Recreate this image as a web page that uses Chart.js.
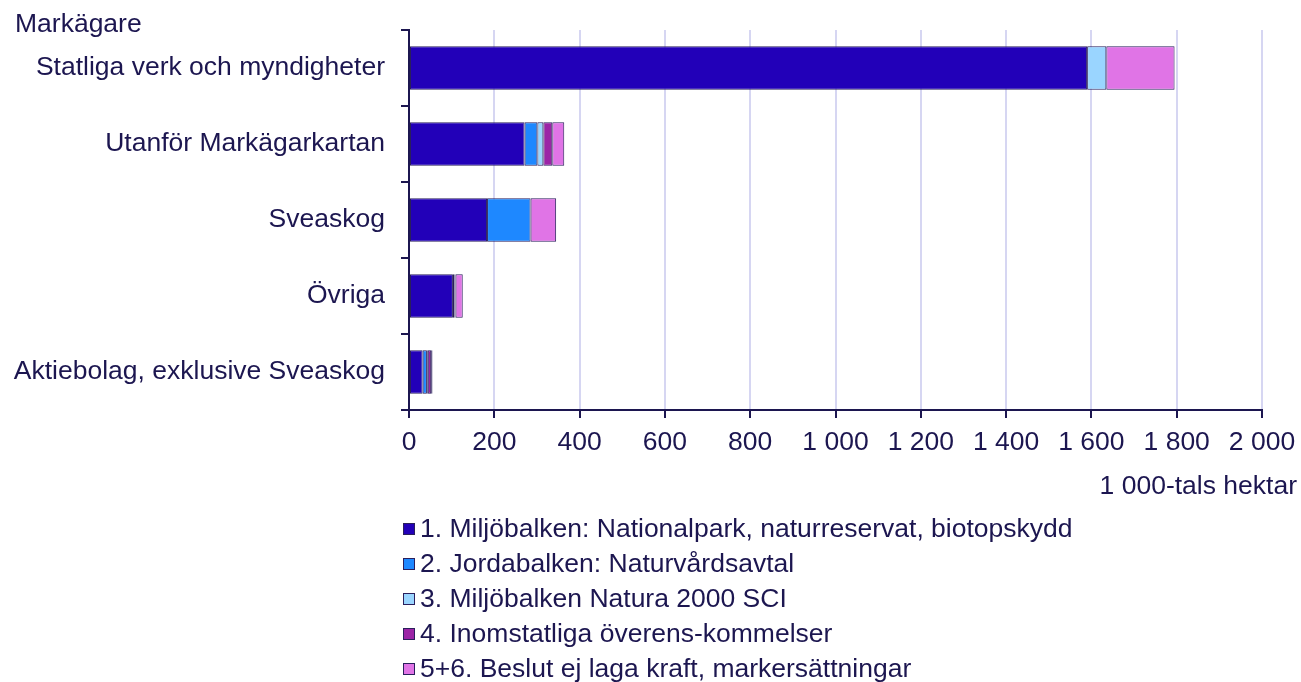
<!DOCTYPE html>
<html>
<head>
<meta charset="utf-8">
<script src="https://cdn.jsdelivr.net/npm/chart.js@4/dist/chart.umd.min.js"></script>
<style>
  html, body { margin: 0; padding: 0; background: #ffffff; }
  #wrap { width: 1301px; height: 682px; position: relative; }
</style>
</head>
<body>
<div id="wrap"><canvas id="chart" width="1301" height="682"></canvas></div>
<script>
// Markägare (categories)
const categories = [
  'Statliga verk och myndigheter',
  'Utanför Markägarkartan',
  'Sveaskog',
  'Övriga',
  'Aktiebolag, exklusive Sveaskog'
];

// Series, 1 000-tals hektar
const seriesNames = [
  '1. Miljöbalken: Nationalpark, naturreservat, biotopskydd',
  '2. Jordabalken: Naturvårdsavtal',
  '3. Miljöbalken Natura 2000 SCI',
  '4. Inomstatliga överens-kommelser',
  '5+6. Beslut ej laga kraft, markersättningar'
];
const miljobalken   = [1590, 271, 183, 103, 32];
const jordabalken   = [0, 30, 102, 4, 10];
const natura2000    = [45, 14, 0, 0, 2];
const inomstatliga  = [0, 21, 0, 2, 8];
const beslutEjLaga  = [160, 28, 60, 17, 3];

const xTicks = [0, 200, 400, 600, 800, 1000, 1200, 1400, 1600, 1800, 2000];
const xMin = 0, xMax = 2000, xStep = 200;

const seriesColors = ['#2200b8', '#1e88ff', '#9ad5ff', '#9b24a6', '#e074e6'];
const ink = '#1c1650';
const edge = '#2a1f5c';
const gridColor = '#d6d6f2';
const FONT = "Arial, 'Liberation Sans', sans-serif";
const FS = 26.5;

function fmtThousands(v) {
  return String(v).replace(/\B(?=(\d{3})+(?!\d))/g, ' ');
}

const seriesData = [miljobalken, jordabalken, natura2000, inomstatliga, beslutEjLaga];

// Axis caption, unit caption and the one-per-line legend
const extras = {
  id: 'extras',
  afterDraw(chart) {
    const ctx = chart.ctx;
    const area = chart.chartArea;
    ctx.save();
    ctx.font = FS + 'px ' + FONT;
    ctx.fillStyle = ink;
    ctx.textBaseline = 'middle';

    ctx.textAlign = 'left';
    ctx.fillText('Markägare', 15, area.top - 5);

    ctx.textAlign = 'right';
    ctx.fillText('1 000-tals hektar', chart.width - 4, area.bottom + 77);

    const lx = area.left - 6;
    const ly0 = area.bottom + 119;
    const gap = 35;
    ctx.textAlign = 'left';
    chart.data.datasets.forEach((ds, i) => {
      const y = ly0 + i * gap;
      ctx.fillStyle = ds.backgroundColor;
      ctx.fillRect(lx, y - 6, 12, 12);
      ctx.strokeStyle = edge;
      ctx.lineWidth = 1;
      ctx.strokeRect(lx + 0.5, y - 5.5, 11, 11);
      ctx.fillStyle = ink;
      ctx.fillText(ds.label, lx + 17, y + 1);
    });
    ctx.restore();
  }
};

new Chart(document.getElementById('chart'), {
  type: 'bar',
  data: {
    labels: categories,
    datasets: seriesNames.map((name, i) => ({
      label: name,
      data: seriesData[i],
      backgroundColor: seriesColors[i],
      borderColor: edge,
      borderWidth: 1,
      borderSkipped: false,
      categoryPercentage: 1,
      barPercentage: 0.57
    }))
  },
  options: {
    indexAxis: 'y',
    responsive: false,
    animation: false,
    layout: { padding: { top: 30, right: 39, bottom: 182, left: 0 } },
    plugins: {
      legend: { display: false },
      tooltip: { enabled: false }
    },
    scales: {
      x: {
        stacked: true,
        min: xMin,
        max: xMax,
        afterFit(scale) {
          scale.height = 90;
          scale.paddingLeft = 0;
          scale.paddingRight = 0;
        },
        afterBuildTicks(scale) { scale.ticks = xTicks.map(v => ({ value: v })); },
        ticks: {
          stepSize: xStep,
          color: ink,
          font: { family: FONT, size: FS },
          padding: 9,
          maxRotation: 0,
          callback: v => fmtThousands(v)
        },
        grid: {
          color: gridColor,
          lineWidth: 2,
          tickColor: ink,
          tickLength: 8,
          tickWidth: 2
        },
        border: { display: true, color: ink, width: 2 }
      },
      y: {
        stacked: true,
        afterFit(scale) {
          scale.width = 409;
          scale.paddingTop = 0;
          scale.paddingBottom = 0;
        },
        ticks: {
          color: ink,
          font: { family: FONT, size: FS },
          padding: 16,
          autoSkip: false
        },
        grid: {
          offset: true,
          drawOnChartArea: false,
          color: ink,
          tickLength: 8,
          lineWidth: 2
        },
        border: { display: true, color: ink, width: 2 }
      }
    }
  },
  plugins: [extras]
});
</script>
</body>
</html>
